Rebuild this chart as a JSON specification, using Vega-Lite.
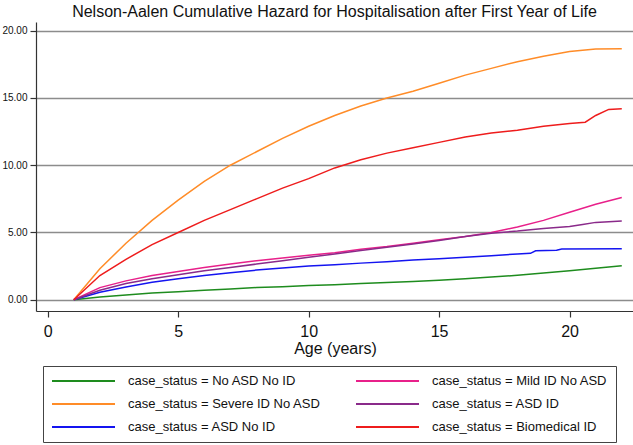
{
  "$schema": "https://vega.github.io/schema/vega-lite/v6.json",
  "width": 597,
  "height": 289,
  "autosize": "none",
  "padding": {"left": 36, "top": 22, "right": 0, "bottom": 134},
  "title": {"text": "Nelson-Aalen Cumulative Hazard for Hospitalisation after First Year of Life", "font": "Liberation Sans", "fontSize": 16, "fontWeight": "normal", "color": "#111", "baseline": "alphabetic", "offset": -11, "frame": "group", "anchor": "middle"},
  "config": {"view": {"stroke": null}, "font": "Liberation Sans"},
  "data": {"values": [
    {"age": 1, "hazard": 0, "status": "No ASD No ID"},
    {"age": 2, "hazard": 0.2, "status": "No ASD No ID"},
    {"age": 3, "hazard": 0.35, "status": "No ASD No ID"},
    {"age": 4, "hazard": 0.5, "status": "No ASD No ID"},
    {"age": 5, "hazard": 0.6, "status": "No ASD No ID"},
    {"age": 6, "hazard": 0.7, "status": "No ASD No ID"},
    {"age": 7, "hazard": 0.8, "status": "No ASD No ID"},
    {"age": 8, "hazard": 0.9, "status": "No ASD No ID"},
    {"age": 9, "hazard": 0.97, "status": "No ASD No ID"},
    {"age": 10, "hazard": 1.05, "status": "No ASD No ID"},
    {"age": 11, "hazard": 1.12, "status": "No ASD No ID"},
    {"age": 12, "hazard": 1.2, "status": "No ASD No ID"},
    {"age": 13, "hazard": 1.28, "status": "No ASD No ID"},
    {"age": 14, "hazard": 1.36, "status": "No ASD No ID"},
    {"age": 15, "hazard": 1.45, "status": "No ASD No ID"},
    {"age": 16, "hazard": 1.55, "status": "No ASD No ID"},
    {"age": 17, "hazard": 1.68, "status": "No ASD No ID"},
    {"age": 18, "hazard": 1.82, "status": "No ASD No ID"},
    {"age": 19, "hazard": 1.98, "status": "No ASD No ID"},
    {"age": 20, "hazard": 2.15, "status": "No ASD No ID"},
    {"age": 21, "hazard": 2.33, "status": "No ASD No ID"},
    {"age": 22, "hazard": 2.52, "status": "No ASD No ID"},

    {"age": 1, "hazard": 0, "status": "Severe ID No ASD"},
    {"age": 2, "hazard": 2.3, "status": "Severe ID No ASD"},
    {"age": 3, "hazard": 4.2, "status": "Severe ID No ASD"},
    {"age": 4, "hazard": 5.9, "status": "Severe ID No ASD"},
    {"age": 5, "hazard": 7.4, "status": "Severe ID No ASD"},
    {"age": 6, "hazard": 8.8, "status": "Severe ID No ASD"},
    {"age": 7, "hazard": 10.0, "status": "Severe ID No ASD"},
    {"age": 8, "hazard": 11.0, "status": "Severe ID No ASD"},
    {"age": 9, "hazard": 12.0, "status": "Severe ID No ASD"},
    {"age": 10, "hazard": 12.9, "status": "Severe ID No ASD"},
    {"age": 11, "hazard": 13.7, "status": "Severe ID No ASD"},
    {"age": 12, "hazard": 14.4, "status": "Severe ID No ASD"},
    {"age": 13, "hazard": 15.0, "status": "Severe ID No ASD"},
    {"age": 14, "hazard": 15.5, "status": "Severe ID No ASD"},
    {"age": 15, "hazard": 16.1, "status": "Severe ID No ASD"},
    {"age": 16, "hazard": 16.7, "status": "Severe ID No ASD"},
    {"age": 17, "hazard": 17.2, "status": "Severe ID No ASD"},
    {"age": 18, "hazard": 17.7, "status": "Severe ID No ASD"},
    {"age": 19, "hazard": 18.1, "status": "Severe ID No ASD"},
    {"age": 20, "hazard": 18.45, "status": "Severe ID No ASD"},
    {"age": 21, "hazard": 18.65, "status": "Severe ID No ASD"},
    {"age": 22, "hazard": 18.66, "status": "Severe ID No ASD"},

    {"age": 1, "hazard": 0, "status": "ASD No ID"},
    {"age": 2, "hazard": 0.55, "status": "ASD No ID"},
    {"age": 3, "hazard": 0.95, "status": "ASD No ID"},
    {"age": 4, "hazard": 1.3, "status": "ASD No ID"},
    {"age": 5, "hazard": 1.55, "status": "ASD No ID"},
    {"age": 6, "hazard": 1.8, "status": "ASD No ID"},
    {"age": 7, "hazard": 2.0, "status": "ASD No ID"},
    {"age": 8, "hazard": 2.2, "status": "ASD No ID"},
    {"age": 9, "hazard": 2.35, "status": "ASD No ID"},
    {"age": 10, "hazard": 2.5, "status": "ASD No ID"},
    {"age": 11, "hazard": 2.6, "status": "ASD No ID"},
    {"age": 12, "hazard": 2.72, "status": "ASD No ID"},
    {"age": 13, "hazard": 2.82, "status": "ASD No ID"},
    {"age": 14, "hazard": 2.95, "status": "ASD No ID"},
    {"age": 15, "hazard": 3.05, "status": "ASD No ID"},
    {"age": 16, "hazard": 3.15, "status": "ASD No ID"},
    {"age": 17, "hazard": 3.27, "status": "ASD No ID"},
    {"age": 18, "hazard": 3.4, "status": "ASD No ID"},
    {"age": 18.5, "hazard": 3.45, "status": "ASD No ID"},
    {"age": 18.7, "hazard": 3.64, "status": "ASD No ID"},
    {"age": 19.5, "hazard": 3.68, "status": "ASD No ID"},
    {"age": 19.7, "hazard": 3.77, "status": "ASD No ID"},
    {"age": 22, "hazard": 3.78, "status": "ASD No ID"},

    {"age": 1, "hazard": 0, "status": "Mild ID No ASD"},
    {"age": 2, "hazard": 0.9, "status": "Mild ID No ASD"},
    {"age": 3, "hazard": 1.4, "status": "Mild ID No ASD"},
    {"age": 4, "hazard": 1.8, "status": "Mild ID No ASD"},
    {"age": 5, "hazard": 2.1, "status": "Mild ID No ASD"},
    {"age": 6, "hazard": 2.4, "status": "Mild ID No ASD"},
    {"age": 7, "hazard": 2.65, "status": "Mild ID No ASD"},
    {"age": 8, "hazard": 2.9, "status": "Mild ID No ASD"},
    {"age": 9, "hazard": 3.1, "status": "Mild ID No ASD"},
    {"age": 10, "hazard": 3.3, "status": "Mild ID No ASD"},
    {"age": 11, "hazard": 3.5, "status": "Mild ID No ASD"},
    {"age": 12, "hazard": 3.75, "status": "Mild ID No ASD"},
    {"age": 13, "hazard": 3.95, "status": "Mild ID No ASD"},
    {"age": 14, "hazard": 4.2, "status": "Mild ID No ASD"},
    {"age": 15, "hazard": 4.45, "status": "Mild ID No ASD"},
    {"age": 16, "hazard": 4.7, "status": "Mild ID No ASD"},
    {"age": 17, "hazard": 5.0, "status": "Mild ID No ASD"},
    {"age": 18, "hazard": 5.4, "status": "Mild ID No ASD"},
    {"age": 19, "hazard": 5.9, "status": "Mild ID No ASD"},
    {"age": 20, "hazard": 6.5, "status": "Mild ID No ASD"},
    {"age": 21, "hazard": 7.1, "status": "Mild ID No ASD"},
    {"age": 22, "hazard": 7.6, "status": "Mild ID No ASD"},

    {"age": 1, "hazard": 0, "status": "ASD ID"},
    {"age": 2, "hazard": 0.7, "status": "ASD ID"},
    {"age": 3, "hazard": 1.2, "status": "ASD ID"},
    {"age": 4, "hazard": 1.55, "status": "ASD ID"},
    {"age": 5, "hazard": 1.85, "status": "ASD ID"},
    {"age": 6, "hazard": 2.15, "status": "ASD ID"},
    {"age": 7, "hazard": 2.4, "status": "ASD ID"},
    {"age": 8, "hazard": 2.65, "status": "ASD ID"},
    {"age": 9, "hazard": 2.9, "status": "ASD ID"},
    {"age": 10, "hazard": 3.15, "status": "ASD ID"},
    {"age": 11, "hazard": 3.4, "status": "ASD ID"},
    {"age": 12, "hazard": 3.65, "status": "ASD ID"},
    {"age": 13, "hazard": 3.9, "status": "ASD ID"},
    {"age": 14, "hazard": 4.15, "status": "ASD ID"},
    {"age": 15, "hazard": 4.4, "status": "ASD ID"},
    {"age": 16, "hazard": 4.7, "status": "ASD ID"},
    {"age": 17, "hazard": 4.95, "status": "ASD ID"},
    {"age": 18, "hazard": 5.1, "status": "ASD ID"},
    {"age": 19, "hazard": 5.3, "status": "ASD ID"},
    {"age": 20, "hazard": 5.45, "status": "ASD ID"},
    {"age": 20.5, "hazard": 5.6, "status": "ASD ID"},
    {"age": 21, "hazard": 5.75, "status": "ASD ID"},
    {"age": 22, "hazard": 5.85, "status": "ASD ID"},

    {"age": 1, "hazard": 0, "status": "Biomedical ID"},
    {"age": 2, "hazard": 1.8, "status": "Biomedical ID"},
    {"age": 3, "hazard": 3.0, "status": "Biomedical ID"},
    {"age": 4, "hazard": 4.1, "status": "Biomedical ID"},
    {"age": 5, "hazard": 5.0, "status": "Biomedical ID"},
    {"age": 6, "hazard": 5.9, "status": "Biomedical ID"},
    {"age": 7, "hazard": 6.7, "status": "Biomedical ID"},
    {"age": 8, "hazard": 7.5, "status": "Biomedical ID"},
    {"age": 9, "hazard": 8.3, "status": "Biomedical ID"},
    {"age": 10, "hazard": 9.0, "status": "Biomedical ID"},
    {"age": 11, "hazard": 9.8, "status": "Biomedical ID"},
    {"age": 12, "hazard": 10.4, "status": "Biomedical ID"},
    {"age": 13, "hazard": 10.9, "status": "Biomedical ID"},
    {"age": 14, "hazard": 11.3, "status": "Biomedical ID"},
    {"age": 15, "hazard": 11.7, "status": "Biomedical ID"},
    {"age": 16, "hazard": 12.1, "status": "Biomedical ID"},
    {"age": 17, "hazard": 12.4, "status": "Biomedical ID"},
    {"age": 18, "hazard": 12.6, "status": "Biomedical ID"},
    {"age": 19, "hazard": 12.9, "status": "Biomedical ID"},
    {"age": 20, "hazard": 13.1, "status": "Biomedical ID"},
    {"age": 20.6, "hazard": 13.2, "status": "Biomedical ID"},
    {"age": 21, "hazard": 13.7, "status": "Biomedical ID"},
    {"age": 21.5, "hazard": 14.15, "status": "Biomedical ID"},
    {"age": 22, "hazard": 14.2, "status": "Biomedical ID"}
  ]},
  "mark": {"type": "line", "strokeWidth": 1.5, "interpolate": "linear"},
  "encoding": {
    "x": {
      "field": "age", "type": "quantitative",
      "scale": {"domain": [-0.448, 22.43], "nice": false, "zero": false},
      "axis": {
        "title": "Age (years)", "values": [0, 5, 10, 15, 20], "format": "d",
        "grid": false, "domainColor": "#333", "domainWidth": 1.2,
        "tickColor": "#333", "tickSize": 6, "tickWidth": 1.2,
        "labelFont": "Liberation Sans", "labelFontSize": 16, "labelColor": "#111",
        "labelBaseline": "alphabetic", "labelPadding": 19,
        "titleFont": "Liberation Sans", "titleFontSize": 16, "titleFontWeight": "normal", "titleColor": "#111",
        "titleBaseline": "alphabetic", "titleY": 42, "titleX": 299
      }
    },
    "y": {
      "field": "hazard", "type": "quantitative",
      "scale": {"domain": [-0.84, 20.65], "nice": false, "zero": false},
      "axis": {
        "title": null, "values": [0, 5, 10, 15, 20], "format": ".2f",
        "grid": true, "gridColor": "#8c8c8c", "gridWidth": 1.5,
        "domainColor": "#333", "domainWidth": 1.2,
        "tickColor": "#333", "tickSize": 6, "tickWidth": 1.2,
        "labelFont": "Liberation Sans", "labelFontSize": 10, "labelColor": "#111",
        "labelPadding": 3
      }
    },
    "color": {
      "field": "status", "type": "nominal",
      "scale": {
        "domain": ["No ASD No ID", "Severe ID No ASD", "ASD No ID", "Mild ID No ASD", "ASD ID", "Biomedical ID"],
        "range": ["#1e8c1e", "#ff8c28", "#1414f0", "#e8208a", "#8a2a8a", "#ee1c1c"]
      },
      "legend": {
        "orient": "none", "legendX": 7, "legendY": 344,
        "title": null, "columns": 2, "gridAlign": "all",
        "symbolType": "stroke", "symbolSize": 3969, "symbolStrokeWidth": 2,
        "clipHeight": 14, "rowPadding": 9, "columnPadding": 34,
        "labelOffset": 12, "labelFont": "Liberation Sans", "labelFontSize": 13, "labelColor": "#111",
        "labelExpr": "'case_status = ' + datum.label", "labelLimit": 400,
        "strokeColor": "#444", "padding": 8
      }
    }
  }
}
